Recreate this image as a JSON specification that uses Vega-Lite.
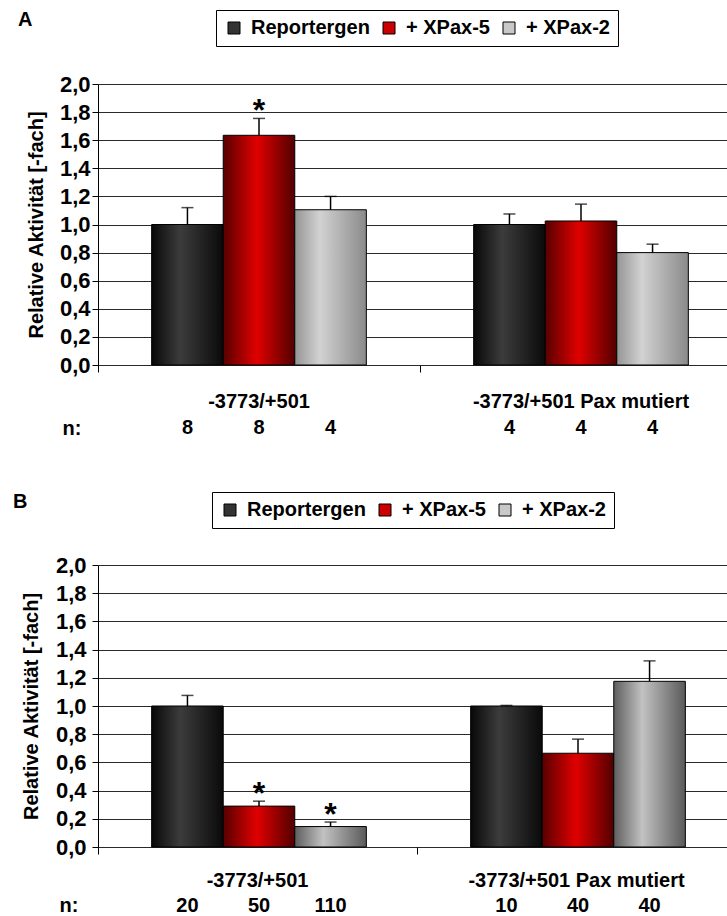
{
  "$schema": "https://vega.github.io/schema/vega-lite/v6.json",
  "padding": {"left": 13, "top": 9, "right": 0, "bottom": 0},
  "config": {
    "font": "Liberation Sans",
    "view": {"stroke": null},
    "axis": {"labelFont": "Liberation Sans", "labelFontWeight": "bold", "labelFontSize": 20, "labelColor": "black", "titleFont": "Liberation Sans", "titleFontWeight": "bold", "titleFontSize": 20, "titleColor": "black"},
    "legend": {"labelFont": "Liberation Sans", "labelFontWeight": "bold", "labelFontSize": 20, "labelColor": "black"},
    "title": {"font": "Liberation Sans", "fontWeight": "bold", "fontSize": 20, "color": "black"}
  },
  "datasets": {
    "barsA": [
      {"construct": "-3773/+501", "series": "Reportergen", "value": 1.0, "upper": 1.12, "n": 8, "sig": ""},
      {"construct": "-3773/+501", "series": "+ XPax-5", "value": 1.635, "upper": 1.755, "n": 8, "sig": "*"},
      {"construct": "-3773/+501", "series": "+ XPax-2", "value": 1.105, "upper": 1.2, "n": 4, "sig": ""},
      {"construct": "-3773/+501 Pax mutiert", "series": "Reportergen", "value": 1.0, "upper": 1.075, "n": 4, "sig": ""},
      {"construct": "-3773/+501 Pax mutiert", "series": "+ XPax-5", "value": 1.025, "upper": 1.145, "n": 4, "sig": ""},
      {"construct": "-3773/+501 Pax mutiert", "series": "+ XPax-2", "value": 0.8, "upper": 0.86, "n": 4, "sig": ""}
    ],
    "barsB": [
      {"construct": "-3773/+501", "series": "Reportergen", "value": 1.0, "upper": 1.075, "n": 20, "sig": ""},
      {"construct": "-3773/+501", "series": "+ XPax-5", "value": 0.29, "upper": 0.325, "n": 50, "sig": "*"},
      {"construct": "-3773/+501", "series": "+ XPax-2", "value": 0.145, "upper": 0.177, "n": 110, "sig": "*"},
      {"construct": "-3773/+501 Pax mutiert", "series": "Reportergen", "value": 1.0, "upper": 1.004, "n": 10, "sig": ""},
      {"construct": "-3773/+501 Pax mutiert", "series": "+ XPax-5", "value": 0.665, "upper": 0.765, "n": 40, "sig": ""},
      {"construct": "-3773/+501 Pax mutiert", "series": "+ XPax-2", "value": 1.175, "upper": 1.32, "n": 40, "sig": ""}
    ],
    "groups": [
      {"construct": "-3773/+501"},
      {"construct": "-3773/+501 Pax mutiert"}
    ]
  },
  "resolve": {"scale": {"color": "independent"}, "legend": {"color": "independent"}},
  "spacing": 50,
  "vconcat": [
    {
      "title": {"text": "A", "anchor": "start", "frame": "bounds", "offset": -20, "dx": -8},
      "spacing": 13,
      "resolve": {"scale": {"color": "independent"}, "legend": {"color": "independent"}},
      "vconcat": [
        {
          "width": 633,
          "height": 281,
          "data": {"name": "barsA"},
          "encoding": {
            "x": {"field": "construct", "type": "nominal", "sort": ["-3773/+501", "-3773/+501 Pax mutiert"], "scale": {"range": [0, 644], "paddingInner": 0, "paddingOuter": 0},
              "axis": {"labels": false, "title": null, "domain": false, "ticks": true, "bandPosition": 0, "tickSize": 7, "tickColor": "black", "grid": false}},
            "xOffset": {"field": "series", "type": "nominal", "sort": ["Reportergen", "+ XPax-5", "+ XPax-2"], "scale": {"paddingInner": 0, "paddingOuter": 0.75}},
            "y": {"field": "value", "type": "quantitative", "scale": {"domain": [0, 2]},
              "axis": {"values": [0, 0.2, 0.4, 0.6, 0.8, 1, 1.2, 1.4, 1.6, 1.8, 2], "labelExpr": "replace(format(datum.value, '.1f'), '.', ',')", "title": "Relative Aktivität [-fach]", "titlePadding": 12, "labelPadding": 2, "labelFontSize": 22, "tickSize": 6, "tickColor": "black", "domainColor": "black", "grid": true, "gridColor": "#2a2a2a", "minExtent": 40}}
          },
          "layer": [
            {
              "mark": {"type": "bar", "opacity": 0},
              "encoding": {
                "color": {"field": "series", "type": "nominal", "sort": ["Reportergen", "+ XPax-5", "+ XPax-2"],
                  "scale": {"domain": ["Reportergen", "+ XPax-5", "+ XPax-2"], "range": ["#333333", "#cc0000", "#c8c8c8"]},
                  "legend": {"orient": "none", "legendX": 118, "legendY": -74, "direction": "horizontal", "title": null, "strokeColor": "black", "fillColor": "white", "padding": 8, "symbolType": "square", "symbolSize": 144, "symbolOpacity": 1, "symbolStrokeColor": "black", "symbolStrokeWidth": 1, "labelOffset": 7, "columnPadding": 9, "labelLimit": 0,
                    "labelExpr": "datum.label === 'Reportergen' ? '  Reportergen' : datum.label"}}
              }
            },
            {
              "transform": [{"filter": "datum.series === 'Reportergen'"}],
              "mark": {"type": "bar", "stroke": "black", "strokeWidth": 1,
                "fill": {"gradient": "linear", "x1": 0, "y1": 0, "x2": 1, "y2": 0, "stops": [{"offset": 0, "color": "#080808"}, {"offset": 0.4, "color": "#3c3c3c"}, {"offset": 1, "color": "#0a0a0a"}]}}
            },
            {
              "transform": [{"filter": "datum.series === '+ XPax-5'"}],
              "mark": {"type": "bar", "stroke": "black", "strokeWidth": 1,
                "fill": {"gradient": "linear", "x1": 0, "y1": 0, "x2": 1, "y2": 0, "stops": [{"offset": 0, "color": "#580000"}, {"offset": 0.47, "color": "#e00000"}, {"offset": 1, "color": "#520000"}]}}
            },
            {
              "transform": [{"filter": "datum.series === '+ XPax-2'"}],
              "mark": {"type": "bar", "stroke": "black", "strokeWidth": 1,
                "fill": {"gradient": "linear", "x1": 0, "y1": 0, "x2": 1, "y2": 0, "stops": [{"offset": 0, "color": "#959595"}, {"offset": 0.35, "color": "#d2d2d2"}, {"offset": 1, "color": "#8a8a8a"}]}}
            },
            {
              "mark": {"type": "rule", "color": "black", "strokeWidth": 1.5},
              "encoding": {"y2": {"field": "upper"}}
            },
            {
              "mark": {"type": "tick", "color": "black", "thickness": 1.5, "size": 12},
              "encoding": {"y": {"field": "upper", "type": "quantitative"}}
            },
            {
              "mark": {"type": "text", "fontSize": 32, "fontWeight": "bold", "baseline": "alphabetic", "dy": 3, "color": "black"},
              "encoding": {"y": {"field": "upper", "type": "quantitative"}, "text": {"field": "sig"}}
            }
          ]
        },
        {
          "width": 633,
          "height": 52,
          "layer": [
            {
              "data": {"name": "groups"},
              "mark": {"type": "text", "fontSize": 20, "fontWeight": "bold", "color": "black"},
              "encoding": {
                "x": {"field": "construct", "type": "nominal", "sort": ["-3773/+501", "-3773/+501 Pax mutiert"], "scale": {"range": [0, 644], "paddingInner": 0, "paddingOuter": 0}, "axis": null},
                "y": {"datum": "cat", "type": "nominal", "scale": {"domain": ["cat", "n:"], "paddingInner": 0, "paddingOuter": 0},
                  "axis": {"labelExpr": "datum.value === 'cat' ? '' : datum.label", "domain": false, "ticks": false, "grid": false, "labelPadding": 17, "title": " ", "titlePadding": 12, "minExtent": 40}},
                "text": {"field": "construct"}
              }
            },
            {
              "data": {"name": "barsA"},
              "mark": {"type": "text", "fontSize": 20, "fontWeight": "bold", "color": "black"},
              "encoding": {
                "x": {"field": "construct", "type": "nominal", "sort": ["-3773/+501", "-3773/+501 Pax mutiert"]},
                "xOffset": {"field": "series", "type": "nominal", "sort": ["Reportergen", "+ XPax-5", "+ XPax-2"], "scale": {"paddingInner": 0, "paddingOuter": 0.75}},
                "y": {"datum": "n:", "type": "nominal"},
                "text": {"field": "n"}
              }
            }
          ]
        }
      ]
    },
    {
      "title": {"text": "B", "anchor": "start", "frame": "bounds", "offset": -20, "dx": -8},
      "spacing": 11,
      "resolve": {"scale": {"color": "independent"}, "legend": {"color": "independent"}},
      "vconcat": [
        {
          "width": 628,
          "height": 282,
          "data": {"name": "barsB"},
          "encoding": {
            "x": {"field": "construct", "type": "nominal", "sort": ["-3773/+501", "-3773/+501 Pax mutiert"], "scale": {"range": [0, 638], "paddingInner": 0, "paddingOuter": 0},
              "axis": {"labels": false, "title": null, "domain": false, "ticks": true, "bandPosition": 0, "tickSize": 7, "tickColor": "black", "grid": false}},
            "xOffset": {"field": "series", "type": "nominal", "sort": ["Reportergen", "+ XPax-5", "+ XPax-2"], "scale": {"paddingInner": 0, "paddingOuter": 0.75}},
            "y": {"field": "value", "type": "quantitative", "scale": {"domain": [0, 2]},
              "axis": {"values": [0, 0.2, 0.4, 0.6, 0.8, 1, 1.2, 1.4, 1.6, 1.8, 2], "labelExpr": "replace(format(datum.value, '.1f'), '.', ',')", "title": "Relative Aktivität [-fach]", "titlePadding": 12, "labelPadding": 6, "labelFontSize": 22, "tickSize": 6, "tickColor": "black", "domainColor": "black", "grid": true, "gridColor": "#2a2a2a", "minExtent": 45}}
          },
          "layer": [
            {
              "mark": {"type": "bar", "opacity": 0},
              "encoding": {
                "color": {"field": "series", "type": "nominal", "sort": ["Reportergen", "+ XPax-5", "+ XPax-2"],
                  "scale": {"domain": ["Reportergen", "+ XPax-5", "+ XPax-2"], "range": ["#333333", "#cc0000", "#c8c8c8"]},
                  "legend": {"orient": "none", "legendX": 114, "legendY": -73, "direction": "horizontal", "title": null, "strokeColor": "black", "fillColor": "white", "padding": 8, "symbolType": "square", "symbolSize": 144, "symbolOpacity": 1, "symbolStrokeColor": "black", "symbolStrokeWidth": 1, "labelOffset": 7, "columnPadding": 9, "labelLimit": 0,
                    "labelExpr": "datum.label === 'Reportergen' ? '  Reportergen' : datum.label"}}
              }
            },
            {
              "transform": [{"filter": "datum.series === 'Reportergen'"}],
              "mark": {"type": "bar", "stroke": "black", "strokeWidth": 1,
                "fill": {"gradient": "linear", "x1": 0, "y1": 0, "x2": 1, "y2": 0, "stops": [{"offset": 0, "color": "#080808"}, {"offset": 0.4, "color": "#3c3c3c"}, {"offset": 1, "color": "#0a0a0a"}]}}
            },
            {
              "transform": [{"filter": "datum.series === '+ XPax-5'"}],
              "mark": {"type": "bar", "stroke": "black", "strokeWidth": 1,
                "fill": {"gradient": "linear", "x1": 0, "y1": 0, "x2": 1, "y2": 0, "stops": [{"offset": 0, "color": "#580000"}, {"offset": 0.47, "color": "#e00000"}, {"offset": 1, "color": "#520000"}]}}
            },
            {
              "transform": [{"filter": "datum.series === '+ XPax-2'"}],
              "mark": {"type": "bar", "stroke": "black", "strokeWidth": 1,
                "fill": {"gradient": "linear", "x1": 0, "y1": 0, "x2": 1, "y2": 0, "stops": [{"offset": 0, "color": "#5e5e5e"}, {"offset": 0.4, "color": "#c2c2c2"}, {"offset": 1, "color": "#5a5a5a"}]}}
            },
            {
              "mark": {"type": "rule", "color": "black", "strokeWidth": 1.5},
              "encoding": {"y2": {"field": "upper"}}
            },
            {
              "mark": {"type": "tick", "color": "black", "thickness": 1.5, "size": 12},
              "encoding": {"y": {"field": "upper", "type": "quantitative"}}
            },
            {
              "mark": {"type": "text", "fontSize": 32, "fontWeight": "bold", "baseline": "alphabetic", "dy": 3, "color": "black"},
              "encoding": {"y": {"field": "upper", "type": "quantitative"}, "text": {"field": "sig"}}
            }
          ]
        },
        {
          "width": 628,
          "height": 49,
          "layer": [
            {
              "data": {"name": "groups"},
              "mark": {"type": "text", "fontSize": 20, "fontWeight": "bold", "color": "black"},
              "encoding": {
                "x": {"field": "construct", "type": "nominal", "sort": ["-3773/+501", "-3773/+501 Pax mutiert"], "scale": {"range": [0, 638], "paddingInner": 0, "paddingOuter": 0}, "axis": null},
                "y": {"datum": "cat", "type": "nominal", "scale": {"domain": ["cat", "n:"], "paddingInner": 0, "paddingOuter": 0},
                  "axis": {"labelExpr": "datum.value === 'cat' ? '' : datum.label", "domain": false, "ticks": false, "grid": false, "labelPadding": 20, "title": " ", "titlePadding": 12, "minExtent": 45}},
                "text": {"field": "construct"}
              }
            },
            {
              "data": {"name": "barsB"},
              "mark": {"type": "text", "fontSize": 20, "fontWeight": "bold", "color": "black"},
              "encoding": {
                "x": {"field": "construct", "type": "nominal", "sort": ["-3773/+501", "-3773/+501 Pax mutiert"]},
                "xOffset": {"field": "series", "type": "nominal", "sort": ["Reportergen", "+ XPax-5", "+ XPax-2"], "scale": {"paddingInner": 0, "paddingOuter": 0.75}},
                "y": {"datum": "n:", "type": "nominal"},
                "text": {"field": "n"}
              }
            }
          ]
        }
      ]
    }
  ]
}
